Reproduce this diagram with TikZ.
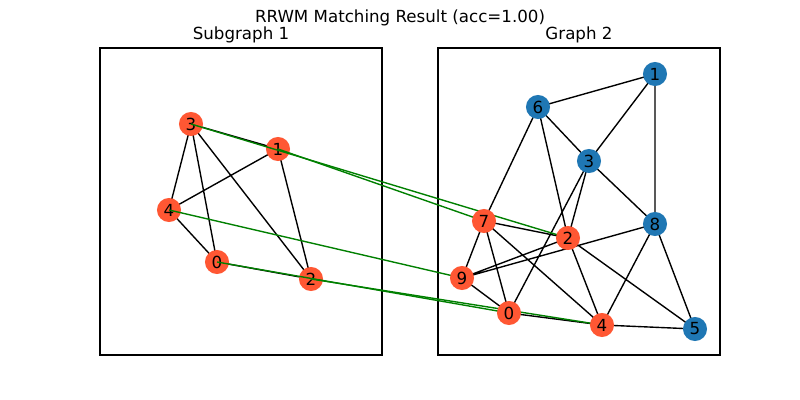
\documentclass[tikz,border=0pt]{standalone}
\usepackage{fontspec}
\setmainfont{DejaVu Sans}
\definecolor{nodered}{HTML}{FF5733}
\definecolor{nodeblue}{HTML}{1F77B4}
\definecolor{matchgreen}{HTML}{008000}
\begin{document}
\begin{tikzpicture}[x=0.72pt,y=-0.72pt,
  vred/.style={circle,fill=nodered,draw=none,minimum size=17.3pt,inner sep=0pt,font=\fontsize{12}{14}\selectfont},
  vblue/.style={circle,fill=nodeblue,draw=none,minimum size=17.3pt,inner sep=0pt,font=\fontsize{12}{14}\selectfont},
  edge/.style={black,line width=1pt},
  match/.style={matchgreen,line width=1pt},
  frame/.style={black,line width=0.8pt},
  ttl/.style={anchor=base,inner sep=0pt,font=\fontsize{12}{14}\selectfont}]
\useasboundingbox (0,0) rectangle (800,400);
\fill[white] (0,0) rectangle (800,400);
% titles
\node[ttl] (title) at (400,22.5) {RRWM Matching Result (acc=1.00)};
\node[ttl] (t1) at (241,39.5) {Subgraph 1};
\node[ttl] (t2) at (579,39.5) {Graph 2};
% frames
\draw[frame] (100,48) rectangle (382,355);
\draw[frame] (438,48) rectangle (720,355);
% left nodes (coordinates first)
\coordinate (a3) at (191,124);
\coordinate (a1) at (278,149);
\coordinate (a4) at (169,210);
\coordinate (a0) at (217,262);
\coordinate (a2) at (311,279);
% right node centers
\coordinate (b1) at (655,74);
\coordinate (b6) at (538,107);
\coordinate (b3) at (589,161);
\coordinate (b7) at (484,221);
\coordinate (b2) at (568,238);
\coordinate (b8) at (655,224);
\coordinate (b9) at (462,278);
\coordinate (b0) at (509,313);
\coordinate (b4) at (602,325);
\coordinate (b5) at (695,329);
% left edges
\draw[edge] (a3)--(a1) (a3)--(a4) (a3)--(a0) (a3)--(a2) (a1)--(a4) (a1)--(a2) (a4)--(a0) (a0)--(a2);
% left nodes
\node[vred] (L3) at (a3) {3};
\node[vred] (L1) at (a1) {1};
\node[vred] (L4) at (a4) {4};
\node[vred] (L0) at (a0) {0};
\node[vred] (L2) at (a2) {2};
% right edges
\draw[edge] (b1)--(b6) (b1)--(b3) (b1)--(b8) (b6)--(b3) (b6)--(b7) (b6)--(b2)
  (b3)--(b2) (b3)--(b0) (b3)--(b8) (b7)--(b2) (b7)--(b9) (b7)--(b0) (b7)--(b4)
  (b2)--(b9) (b2)--(b4) (b2)--(b5) (b8)--(b9) (b8)--(b4) (b8)--(b5) (b9)--(b0)
  (b0)--(b4) (b4)--(b5);
% matching lines
\draw[match] (L3.center)--(b2);
\draw[match] (L1.center)--(b7);
\draw[match] (L4.center)--(b9);
\draw[match] (L0.center)--(b0);
\draw[match] (L2.center)--(b4);
% right nodes
\node[vblue] (R1) at (b1) {1};
\node[vblue] (R6) at (b6) {6};
\node[vblue] (R3) at (b3) {3};
\node[vred] (R7) at (b7) {7};
\node[vred] (R2) at (b2) {2};
\node[vblue] (R8) at (b8) {8};
\node[vred] (R9) at (b9) {9};
\node[vred] (R0) at (b0) {0};
\node[vred] (R4) at (b4) {4};
\node[vblue] (R5) at (b5) {5};
\end{tikzpicture}
\end{document}
